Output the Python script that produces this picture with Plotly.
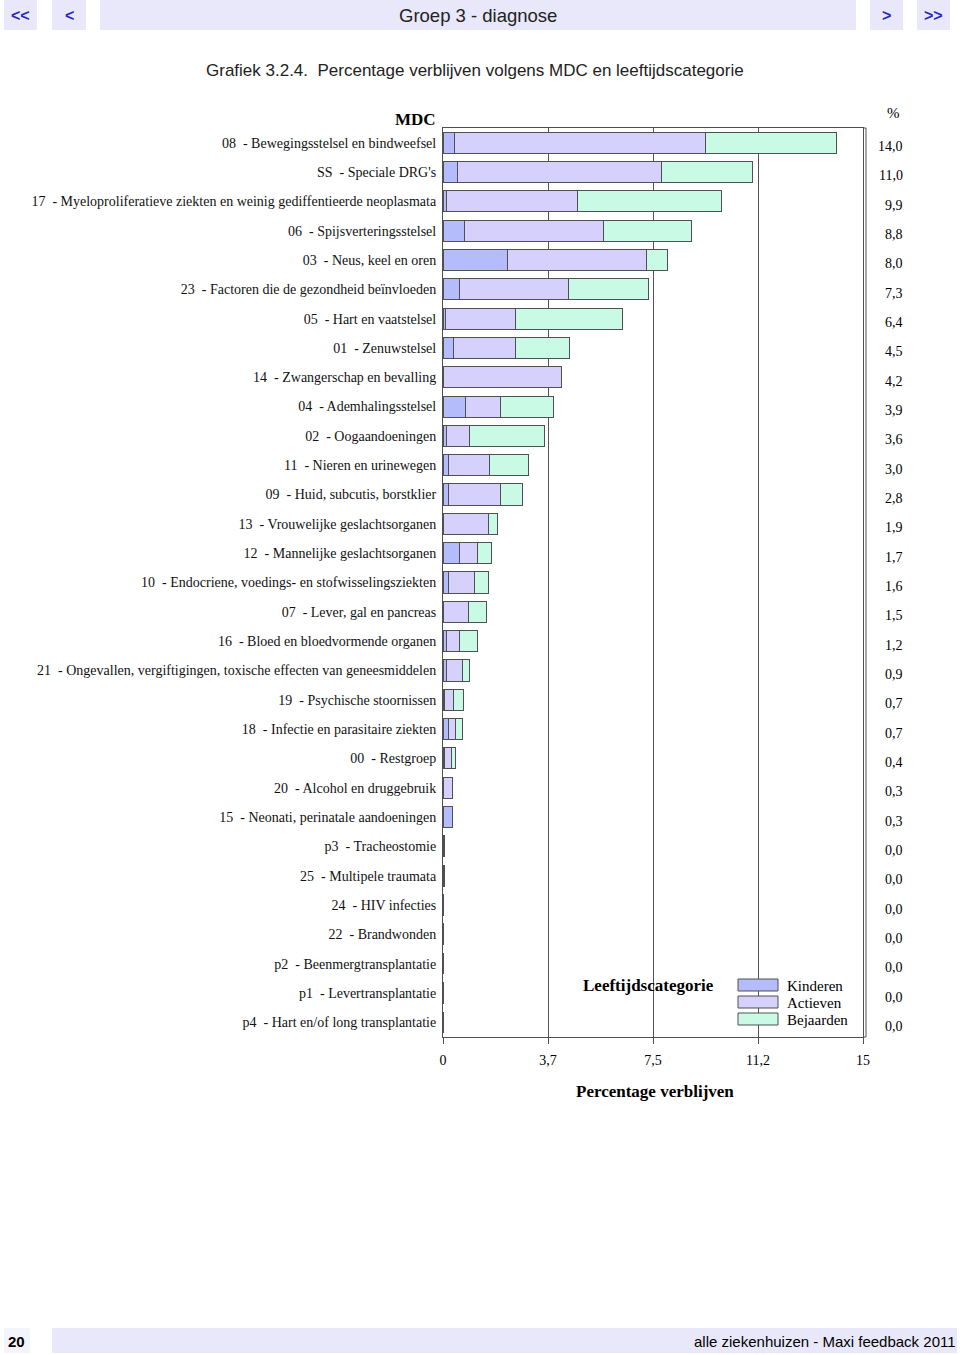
import plotly.graph_objects as go

W, H = 960, 1355

categorieen = [
    "08  - Bewegingsstelsel en bindweefsel",
    "SS  - Speciale DRG's",
    "17  - Myeloproliferatieve ziekten en weinig gediffentieerde neoplasmata",
    "06  - Spijsverteringsstelsel",
    "03  - Neus, keel en oren",
    "23  - Factoren die de gezondheid beïnvloeden",
    "05  - Hart en vaatstelsel",
    "01  - Zenuwstelsel",
    "14  - Zwangerschap en bevalling",
    "04  - Ademhalingsstelsel",
    "02  - Oogaandoeningen",
    "11  - Nieren en urinewegen",
    "09  - Huid, subcutis, borstklier",
    "13  - Vrouwelijke geslachtsorganen",
    "12  - Mannelijke geslachtsorganen",
    "10  - Endocriene, voedings- en stofwisselingsziekten",
    "07  - Lever, gal en pancreas",
    "16  - Bloed en bloedvormende organen",
    "21  - Ongevallen, vergiftigingen, toxische effecten van geneesmiddelen",
    "19  - Psychische stoornissen",
    "18  - Infectie en parasitaire ziekten",
    "00  - Restgroep",
    "20  - Alcohol en druggebruik",
    "15  - Neonati, perinatale aandoeningen",
    "p3  - Tracheostomie",
    "25  - Multipele traumata",
    "24  - HIV infecties",
    "22  - Brandwonden",
    "p2  - Beenmergtransplantatie",
    "p1  - Levertransplantatie",
    "p4  - Hart en/of long transplantatie",
]

kinderen = [0.42, 0.50, 0.14, 0.75, 2.32, 0.58, 0.08, 0.38, 0.00, 0.80, 0.12, 0.18, 0.21, 0.00, 0.58, 0.18,
            0.00, 0.12, 0.11, 0.07, 0.18, 0.06, 0.00, 0.33, 0.00, 0.00, 0.01, 0.01, 0.00, 0.00, 0.00]
actieven = [8.95, 7.32, 4.67, 4.99, 4.94, 3.91, 2.50, 2.20, 4.24, 1.27, 0.82, 1.48, 1.86, 1.62, 0.65, 0.94,
            0.91, 0.46, 0.59, 0.31, 0.26, 0.24, 0.33, 0.00, 0.04, 0.04, 0.00, 0.00, 0.00, 0.00, 0.00]
bejaarden = [4.70, 3.24, 5.15, 3.13, 0.74, 2.86, 3.82, 1.93, 0.00, 1.87, 2.70, 1.38, 0.78, 0.31, 0.50, 0.52,
             0.63, 0.65, 0.24, 0.36, 0.26, 0.14, 0.00, 0.00, 0.00, 0.00, 0.00, 0.00, 0.00, 0.00, 0.00]
totaal = [14.0, 11.0, 9.9, 8.8, 8.0, 7.3, 6.4, 4.5, 4.2, 3.9, 3.6, 3.0, 2.8, 1.9, 1.7, 1.6,
          1.5, 1.2, 0.9, 0.7, 0.7, 0.4, 0.3, 0.3, 0.0, 0.0, 0.0, 0.0, 0.0, 0.0, 0.0]

x_tickvals = [0, 3.75, 7.5, 11.25, 15]
x_ticktext = ["0", "3,7", "7,5", "11,2", "15"]

reeksen = ["Kinderen", "Actieven", "Bejaarden"]
kleuren = ["#b4bcfc", "#d6d0fc", "#c8fae6"]
LINE = "#505050"
SERIF = "Liberation Serif, Times New Roman, serif"
SANS = "Liberation Sans, Arial, sans-serif"


def px(x):
    return x / W


def py(y):
    return 1 - y / H


fig = go.Figure()
for naam, waarden, kleur in zip(reeksen, [kinderen, actieven, bejaarden], kleuren):
    fig.add_trace(go.Bar(
        y=categorieen, x=waarden, orientation="h", name=naam,
        marker=dict(color=kleur, line=dict(color=LINE, width=1)),
        showlegend=False, hoverinfo="x+y+name",
    ))

X0, X1, Y0, Y1 = 443, 863, 128, 1037

fig.update_layout(
    width=W, height=H,
    template="none",
    paper_bgcolor="white", plot_bgcolor="white",
    margin=dict(l=0, r=0, t=0, b=0, pad=0),
    barmode="stack", bargap=0.28,
    xaxis=dict(
        domain=[px(X0), px(X1)], range=[0, 15], tickvals=x_tickvals, ticktext=x_ticktext,
        showgrid=True, gridcolor="#555555", gridwidth=1, zeroline=False,
        showline=True, linecolor=LINE, linewidth=1, mirror=True,
        ticks="outside", ticklen=6, tickcolor=LINE, ticklabelstandoff=4,
        tickfont=dict(family=SERIF, size=14, color="black"), automargin=False,
        fixedrange=True,
    ),
    yaxis=dict(
        domain=[py(Y1), py(Y0)], categoryorder="array", categoryarray=categorieen,
        autorange="reversed", showgrid=False, zeroline=False,
        showline=True, linecolor=LINE, linewidth=1, mirror=True,
        ticks="", ticklabelstandoff=3,
        tickfont=dict(family=SERIF, size=14, color="#111111"), automargin=False,
        fixedrange=True,
    ),
)

shapes = []
# double right border
shapes.append(dict(type="line", xref="paper", yref="paper", x0=px(866), x1=px(866), y0=py(Y0), y1=py(Y1),
                   line=dict(color=LINE, width=1)))
shapes.append(dict(type="line", xref="paper", yref="paper", x0=px(X1), x1=px(866), y0=py(Y0), y1=py(Y0),
                   line=dict(color=LINE, width=1)))
shapes.append(dict(type="line", xref="paper", yref="paper", x0=px(X1), x1=px(866), y0=py(Y1), y1=py(Y1),
                   line=dict(color=LINE, width=1)))

# header nav boxes
NAV_BG = "#e8e8fa"
for (a, b) in [(4, 37), (52, 86), (100, 856), (870, 903), (917, 950)]:
    shapes.append(dict(type="rect", xref="paper", yref="paper", x0=px(a), x1=px(b), y0=py(30), y1=py(0),
                       fillcolor=NAV_BG, line=dict(width=0), layer="below"))
# footer boxes
for (a, b) in [(4, 30), (52, 957)]:
    shapes.append(dict(type="rect", xref="paper", yref="paper", x0=px(a), x1=px(b), y0=py(1353), y1=py(1328),
                       fillcolor=NAV_BG if a > 10 else "#f4f4fc", line=dict(width=0), layer="below"))

# legend swatches
leg_y = [(979, 991), (996, 1008), (1013, 1025)]
for (a, b), kleur in zip(leg_y, kleuren):
    shapes.append(dict(type="rect", xref="paper", yref="paper", x0=px(738), x1=px(778), y0=py(b), y1=py(a),
                       fillcolor=kleur, line=dict(color=LINE, width=1)))

ann = []
NAV_BLUE = "#2a2ab8"
for txt, cx in [("<<", 20.5), ("<", 69), (">", 886.5), (">>", 933.5)]:
    ann.append(dict(text=f"<b>{txt}</b>", x=px(cx), y=py(16), xref="paper", yref="paper",
                    xanchor="center", yanchor="middle", showarrow=False,
                    font=dict(family=SANS, size=16, color=NAV_BLUE)))
ann.append(dict(text="Groep 3 - diagnose", x=px(478), y=py(16), xref="paper", yref="paper",
                xanchor="center", yanchor="middle", showarrow=False,
                font=dict(family=SANS, size=18.5, color="#222222")))
ann.append(dict(text="Grafiek 3.2.4.  Percentage verblijven volgens MDC en leeftijdscategorie",
                x=px(475), y=py(71), xref="paper", yref="paper", xanchor="center", yanchor="middle",
                showarrow=False, font=dict(family=SANS, size=17, color="#222222")))
ann.append(dict(text="<b>MDC</b>", x=px(438), y=py(119), xref="paper", yref="paper",
                xanchor="right", yanchor="middle", showarrow=False,
                font=dict(family=SERIF, size=17, color="black")))
ann.append(dict(text="%", x=px(893), y=py(113), xref="paper", yref="paper",
                xanchor="center", yanchor="middle", showarrow=False,
                font=dict(family=SERIF, size=15, color="black")))
for cat, t in zip(categorieen, totaal):
    ann.append(dict(text=f"{t:.1f}".replace(".", ","), x=px(905), y=cat, xref="paper", yref="y",
                    xanchor="right", yanchor="middle", yshift=-4, showarrow=False,
                    font=dict(family=SERIF, size=14, color="black")))
ann.append(dict(text="<b>Leeftijdscategorie</b>", x=px(648), y=py(985), xref="paper", yref="paper",
                xanchor="center", yanchor="middle", showarrow=False,
                font=dict(family=SERIF, size=17, color="black")))
for naam, (a, b) in zip(reeksen, leg_y):
    ann.append(dict(text=naam, x=px(785), y=py((a + b) / 2 + 1), xref="paper", yref="paper",
                    xanchor="left", yanchor="middle", showarrow=False,
                    font=dict(family=SERIF, size=15, color="black")))
ann.append(dict(text="<b>Percentage verblijven</b>", x=px(655), y=py(1091), xref="paper", yref="paper",
                xanchor="center", yanchor="middle", showarrow=False,
                font=dict(family=SERIF, size=17, color="black")))
ann.append(dict(text="<b>20</b>", x=px(16), y=py(1341), xref="paper", yref="paper",
                xanchor="center", yanchor="middle", showarrow=False,
                font=dict(family=SANS, size=15, color="black")))
ann.append(dict(text="alle ziekenhuizen - Maxi feedback 2011", x=px(958), y=py(1341), xref="paper", yref="paper",
                xanchor="right", yanchor="middle", showarrow=False,
                font=dict(family=SANS, size=15, color="black")))

fig.update_layout(shapes=shapes, annotations=ann)
fig.write_html(
    "out.html",
    config={"displayModeBar": False},
    post_script="document.body.style.margin='0';document.body.style.overflow='hidden';",
)
